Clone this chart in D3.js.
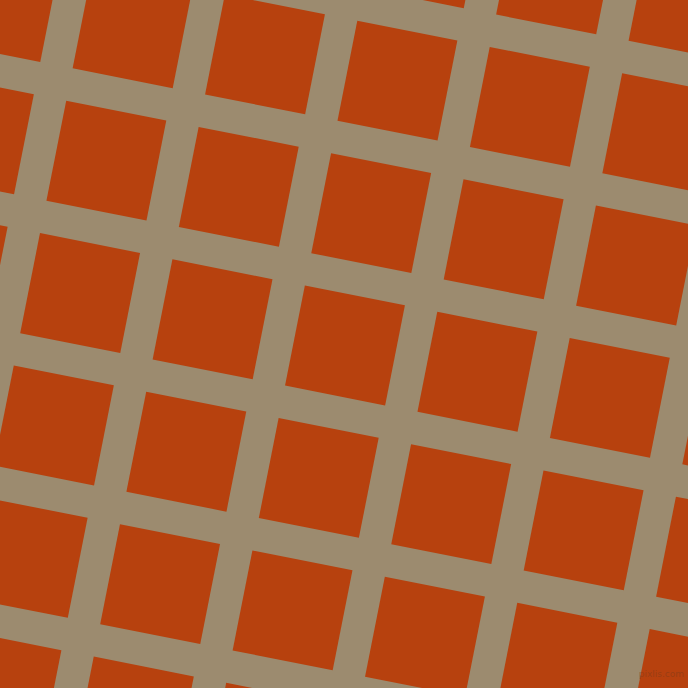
<!DOCTYPE html>
<html>
<head>
<meta charset="utf-8">
<script src="https://cdn.jsdelivr.net/npm/d3@7"></script>
<style>
  html, body { margin: 0; padding: 0; background: #9c8b6f; }
  svg { display: block; }
</style>
</head>
<body>
<div id="tiles"></div>
<script>
// lattice indices of the tilted tile grid
const cols = [-3, -2, -1, 0, 1, 2, 3, 4];
const rows = [-2, -1, 0, 1, 2, 3, 4, 5, 6];
const palette = ['#9c8b6f', '#b7410e'];

const width = 688;
const height = 688;
const step = 135;       // tile pitch
const tileSize = 102;   // tile side
const angle = 11.2;     // grid rotation, degrees

const svg = d3.select('#tiles').append('svg')
  .attr('width', width)
  .attr('height', height)
  .attr('viewBox', `0 0 ${width} ${height}`);

svg.append('rect')
  .attr('width', width)
  .attr('height', height)
  .attr('fill', palette[0]);

const xScale = d3.scaleLinear().domain([0, 1]).range([0, step]);
const yScale = d3.scaleLinear().domain([0, 1]).range([0, step]);

const cells = d3.cross(cols, rows).map(([c, r]) => ({ c, r }));

const grid = svg.append('g')
  .attr('transform', `translate(357.3,20.7) rotate(${angle})`);

grid.selectAll('rect')
  .data(cells)
  .enter()
  .append('rect')
  .attr('x', d => xScale(d.c))
  .attr('y', d => yScale(d.r))
  .attr('width', tileSize)
  .attr('height', tileSize)
  .attr('fill', palette[1]);

svg.append('text')
  .attr('x', 684)
  .attr('y', 677)
  .attr('text-anchor', 'end')
  .attr('font-family', 'DejaVu Sans, sans-serif')
  .attr('font-size', 9)
  .attr('fill', '#7a3a1a')
  .attr('fill-opacity', 0.5)
  .text('pixlis.com');
</script>
</body>
</html>
